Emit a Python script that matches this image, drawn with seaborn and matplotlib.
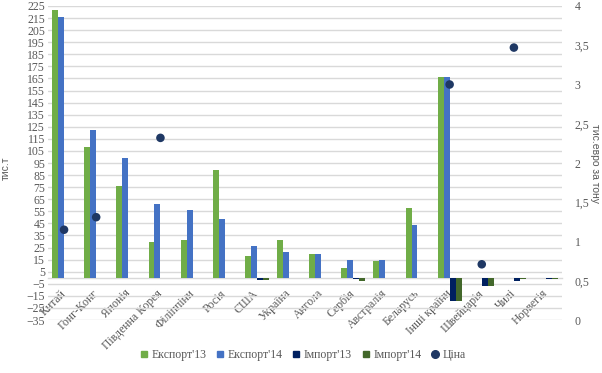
"""Export/import volumes by country with average price on a secondary axis."""
import matplotlib
matplotlib.use("Agg")
import matplotlib.pyplot as plt
from matplotlib.lines import Line2D
import numpy as np
import pandas as pd
import seaborn as sns

nan = np.nan

countries = ["Китай", "Гонг-Конг", "Японія", "Південна Корея", "Філіппіни",
             "Росія", "США", "Україна", "Ангола", "Сербія", "Австралія",
             "Беларусь", "Інші країни", "Швейцарія", "Чилі", "Норвегія"]
export13 = [222, 108, 76, 30, 31, 89, 18, 31, 20, 8, 14, 58, 166, nan, nan, nan]
export14 = [216, 122, 99, 61, 56, 49, 26, 21, 20, 15, 15, 44, 166, nan, nan, nan]
import13 = [nan, nan, nan, nan, nan, nan, -1.5, nan, nan, -1, nan, nan, -19, -7, -2.5, -1]
import14 = [nan, nan, nan, nan, nan, nan, -1.5, nan, nan, -2.5, nan, nan, -19, -7, -1, -1]
price = [1.15, 1.31, nan, 2.32, nan, nan, nan, nan, nan, nan, nan, nan, 3.0, 0.71, 3.47, nan]

series = ["Експорт'13", "Експорт'14", "Імпорт'13", "Імпорт'14"]
colors = {"Експорт'13": "#70AD47", "Експорт'14": "#4472C4",
          "Імпорт'13": "#002060", "Імпорт'14": "#43682B"}
dot_color = "#1F3864"
grey = "#595959"
grid = "#D9D9D9"

wide = pd.DataFrame({"country": countries, series[0]: export13, series[1]: export14,
                     series[2]: import13, series[3]: import14})
long = wide.melt(id_vars="country", var_name="series", value_name="value")

sns.set_style("white")
serif = ["Liberation Serif", "DejaVu Serif"]
fs = 8.5

fig = plt.figure(figsize=(6.02, 3.73), dpi=100)
ax = fig.add_axes([0.0797, 0.142, 0.854, 0.842])

# linewidth=0: the seaborn style otherwise adds white edges to every bar
sns.barplot(data=long, x="country", y="value", hue="series", order=countries,
            hue_order=series, palette=colors, width=0.74, gap=0, linewidth=0,
            errorbar=None, saturation=1, ax=ax, legend=False, zorder=3)

ax.set_ylim(-35, 225)
ax.set_yticks(np.arange(-35, 226, 10))
ax.set_xlim(-0.5, len(countries) - 0.5)
ax.grid(axis="y", color=grid, lw=1, zorder=0)
ax.set_axisbelow(True)
for s in ax.spines.values():
    s.set_visible(False)
# category axis crosses at zero, like the original spreadsheet chart
ax.spines["bottom"].set_visible(True)
ax.spines["bottom"].set_position(("data", 0))
ax.spines["bottom"].set_color(grid)
ax.spines["bottom"].set_linewidth(1)
ax.tick_params(axis="both", length=0, labelcolor=grey, labelsize=fs, pad=2)
for lab in ax.get_yticklabels():
    lab.set_family(serif)
ax.set_xticks(range(len(countries)))
ax.set_xticklabels(countries, rotation=45, ha="right", va="center",
                   rotation_mode="anchor", family=serif, fontsize=fs, color=grey)
ax.tick_params(axis="x", pad=10)
ax.set_xlabel("")
ax.set_ylabel("тис.т", fontsize=7.5, color=grey, family=["Liberation Sans"])
ax.yaxis.set_label_coords(-0.072, 0.484)

ax2 = ax.twinx()
sns.scatterplot(x=np.arange(len(countries)), y=price, color=dot_color, s=38,
                edgecolor="none", ax=ax2, zorder=5)
ax2.set_ylim(0, 4)
ticks_r = np.arange(0, 4.01, 0.5)
ax2.set_yticks(ticks_r)
ax2.set_yticklabels([f"{v:g}".replace(".", ",") for v in ticks_r],
                    family=serif, fontsize=fs, color=grey)
ax2.tick_params(axis="y", length=0, pad=9)
for s in ax2.spines.values():
    s.set_visible(False)
ax2.set_ylabel("тис.евро за тону", rotation=270, fontsize=7.5, color=grey,
               family=["Liberation Sans"], va="center")
ax2.yaxis.set_label_coords(1.064, 0.5)

handles = [Line2D([], [], marker="s", ls="none", ms=4.5, color=colors[k]) for k in series]
handles.append(Line2D([], [], marker="o", ls="none", ms=5.5, color=dot_color))
fig.legend(handles, series + ["Ціна"], loc="center", bbox_to_anchor=(0.503, 0.048),
           ncol=5, frameon=False, handletextpad=0.3, columnspacing=0.8,
           prop={"family": serif, "size": fs}, labelcolor=grey, handlelength=0.7)

fig.savefig("out.png", dpi=100)
